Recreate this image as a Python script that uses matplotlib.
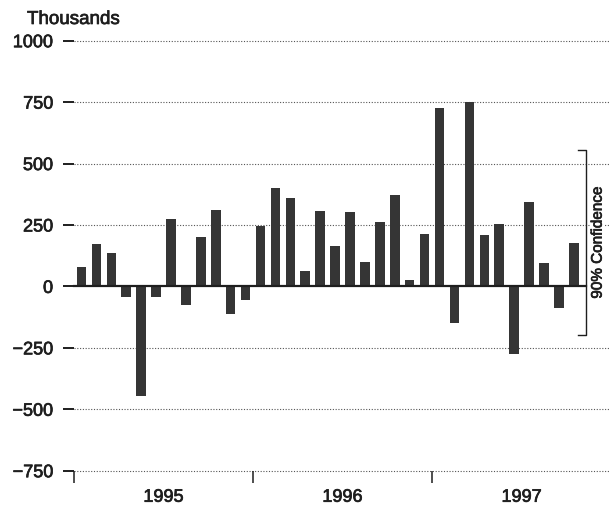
import numpy as np
import matplotlib
matplotlib.use("Agg")
import matplotlib.pyplot as plt
import matplotlib.patheffects as pe

# ─────────────────────────────────────────────
# DATA (monthly change, thousands, Jan 1995 - Oct 1997)
# ─────────────────────────────────────────────
values = [78, 171, 134, -45, -447, -42, 273, -75, 201, 310, -112, -55,
          247, 399, 359, 64, 306, 163, 301, 100, 262, 372, 26, 212,
          727, -150, 752, 208, 254, -277, 344, 96, -89, 178]
years = ["1995", "1996", "1997"]
y_ticks = [1000, 750, 500, 250, 0, -250, -500, -750]
conf_halfwidth = 377
conf_label = "90% Confidence"
unit_label = "Thousands"

# ─────────────────────────────────────────────
# STYLE
# ─────────────────────────────────────────────
plt.rcParams["font.family"] = ["Liberation Sans", "DejaVu Sans"]
BAR_COLOR = "#353535"
INK = "#1e1e1e"
# slight stroke so text has the heavier printed look of the original
HEAVY = [pe.withStroke(linewidth=0.5, foreground=INK)]

fig = plt.figure(figsize=(6.09, 5.10), dpi=100)
ax = fig.add_axes([74 / 609, 1 - 471.7 / 510, 535 / 609, 430 / 510])

x = np.arange(len(values))
ax.bar(x, values, width=0.64, color=BAR_COLOR, zorder=3)

ax.set_xlim(-0.5, 35.36)
ax.set_ylim(-750, 1000)

# confidence bracket position (right of the last bar)
last = len(values) - 1
bx = last + 0.8

# dotted gridlines, solid zero line ending at the bracket
for v in y_ticks:
    if v == 0:
        ax.plot([-0.5, bx], [0, 0], color=INK, lw=1.6, zorder=4,
                clip_on=False)
    else:
        ax.axhline(v, color="#555555", lw=0.8, ls=(0, (1, 1.5)),
                   zorder=1, clip_on=False)

for s in ax.spines.values():
    s.set_visible(False)

ax.set_yticks(y_ticks)
ax.set_yticklabels([f"{v}".replace("-", "\u2212") for v in y_ticks])
ax.tick_params(axis="y", direction="out", length=8, width=1.4,
               color=INK, pad=7, labelsize=13, labelcolor=INK)

# year boundaries as major ticks, year names centred as minor ticks
n_years = len(years)
ax.set_xticks([12 * k - 0.5 for k in range(n_years)])
ax.set_xticklabels([])
ax.set_xticks([12 * k + 5.5 for k in range(n_years)], minor=True)
ax.set_xticklabels(years, minor=True)
ax.tick_params(axis="x", which="major", direction="out", length=8.7,
               width=1.1, color=INK)
ax.tick_params(axis="x", which="minor", length=0, pad=13,
               labelsize=13, labelcolor=INK)

for lab in ax.get_yticklabels() + ax.get_xticklabels(minor=True):
    lab.set_path_effects(HEAVY)

# confidence bracket around the last bar
lo = values[-1] - conf_halfwidth
hi = values[-1] + conf_halfwidth
ax.plot([bx - 0.55, bx, bx, bx - 0.55], [hi, hi, lo, lo],
        color=INK, lw=1.0, zorder=5, clip_on=False)
ax.text(bx + 0.8, values[-1], conf_label, rotation=90, ha="center",
        va="center", fontsize=11, color=INK, zorder=6,
        bbox=dict(facecolor="white", edgecolor="none", pad=0.5),
        path_effects=HEAVY)

fig.text(27 / 609, 1 - 25 / 510, unit_label, ha="left", va="baseline",
         fontsize=13.5, color=INK, path_effects=HEAVY)

fig.savefig("out.png", dpi=100)
